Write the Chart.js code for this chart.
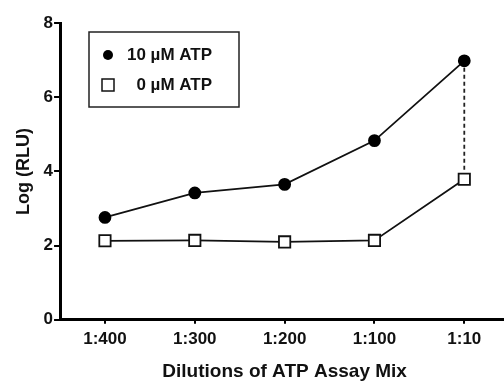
<!DOCTYPE html>
<html>
<head>
<meta charset="utf-8">
<script src="https://cdn.jsdelivr.net/npm/chart.js@4"></script>
<style>
  html, body { margin: 0; padding: 0; background: #fff; overflow: hidden; }
  #wrap { width: 519px; height: 383px; }
</style>
</head>
<body>
<div id="wrap"><canvas id="atp"></canvas></div>
<script>
var dilutions = ["1:400", "1:300", "1:200", "1:100", "1:10"];
var atp10 = [2.76, 3.42, 3.65, 4.83, 6.98];
var atp0 = [2.13, 2.14, 2.10, 2.14, 3.79];
var yTicks = [0, 2, 4, 6, 8];

var FONT = "'Liberation Sans', Arial, sans-serif";

// legend drawn inside the plot, with a thin frame
var boxLegend = {
  id: 'boxLegend',
  afterDraw: function (chart) {
    var ctx = chart.ctx;
    var x0 = 89, y0 = 32, w = 150, h = 75;
    ctx.save();
    ctx.strokeStyle = '#222';
    ctx.lineWidth = 1.5;
    ctx.strokeRect(x0, y0, w, h);
    var rows = [0, 1];
    rows.forEach(function (i) {
      var ds = chart.data.datasets[i];
      var cy = y0 + 23 + i * 30;
      var cx = x0 + 19;
      ctx.lineWidth = 1.5;
      ctx.strokeStyle = '#111';
      ctx.fillStyle = ds.pointBackgroundColor;
      if (ds.pointStyle === 'rect') {
        ctx.fillRect(cx - 6, cy - 6, 12, 12);
        ctx.strokeRect(cx - 6, cy - 6, 12, 12);
      } else {
        ctx.beginPath();
        ctx.arc(cx, cy, 5, 0, Math.PI * 2);
        ctx.fill();
      }
      ctx.fillStyle = '#111';
      ctx.font = 'bold 17px ' + FONT;
      ctx.textAlign = 'right';
      ctx.textBaseline = 'middle';
      ctx.fillText(ds.label, x0 + 123, cy);
    });
    ctx.restore();
  }
};

new Chart(document.getElementById("atp"), {
  type: 'line',
  data: {
    labels: dilutions,
    datasets: [
      {
        label: "10 \u00b5M ATP",
        data: atp10,
        borderColor: "#111",
        borderWidth: 1.8,
        pointStyle: 'circle',
        pointRadius: 5.5,
        pointBackgroundColor: "#000",
        pointBorderColor: "#000",
        tension: 0
      },
      {
        label: "0 \u00b5M ATP",
        data: atp0,
        borderColor: "#111",
        borderWidth: 1.8,
        pointStyle: 'rect',
        pointRadius: 8,
        pointBorderWidth: 1.8,
        pointBackgroundColor: "#fff",
        pointBorderColor: "#111",
        tension: 0
      },
      {
        label: "gap",
        data: [
          { x: dilutions[4], y: atp10[4] },
          { x: dilutions[4], y: atp0[4] + 0.25 }
        ],
        borderColor: "#222",
        borderWidth: 1.8,
        borderDash: [4, 3],
        pointRadius: 0,
        order: 5
      }
    ]
  },
  options: {
    responsive: true,
    maintainAspectRatio: false,
    animation: false,
    layout: { padding: { top: 23, right: 0, left: 13, bottom: 0 } },
    plugins: {
      legend: { display: false },
      tooltip: { enabled: false }
    },
    scales: {
      x: {
        offset: true,
        grid: { offset: false, drawOnChartArea: false, drawTicks: true, tickLength: 4, color: '#000', lineWidth: 2 },
        border: { color: '#000', width: 3 },
        ticks: { color: '#111', font: { family: FONT, size: 17, weight: 'bold' }, padding: 5 },
        title: {
          display: true,
          text: 'Dilutions of ATP Assay Mix',
          color: '#111',
          font: { family: FONT, size: 19, weight: 'bold' },
          padding: { top: 6, bottom: 0 }
        }
      },
      y: {
        min: yTicks[0],
        max: yTicks[yTicks.length - 1],
        afterBuildTicks: function (axis) {
          axis.ticks = yTicks.map(function (v) { return { value: v }; });
        },
        grid: { drawOnChartArea: false, drawTicks: true, tickLength: 6, color: '#000', lineWidth: 2 },
        border: { color: '#000', width: 3 },
        ticks: { color: '#111', font: { family: FONT, size: 17, weight: 'bold' }, padding: 1 },
        title: {
          display: true,
          text: 'Log (RLU)',
          color: '#111',
          font: { family: FONT, size: 18, weight: 'bold' },
          padding: { top: 0, bottom: 8 }
        }
      }
    }
  },
  plugins: [boxLegend]
});
</script>
</body>
</html>
